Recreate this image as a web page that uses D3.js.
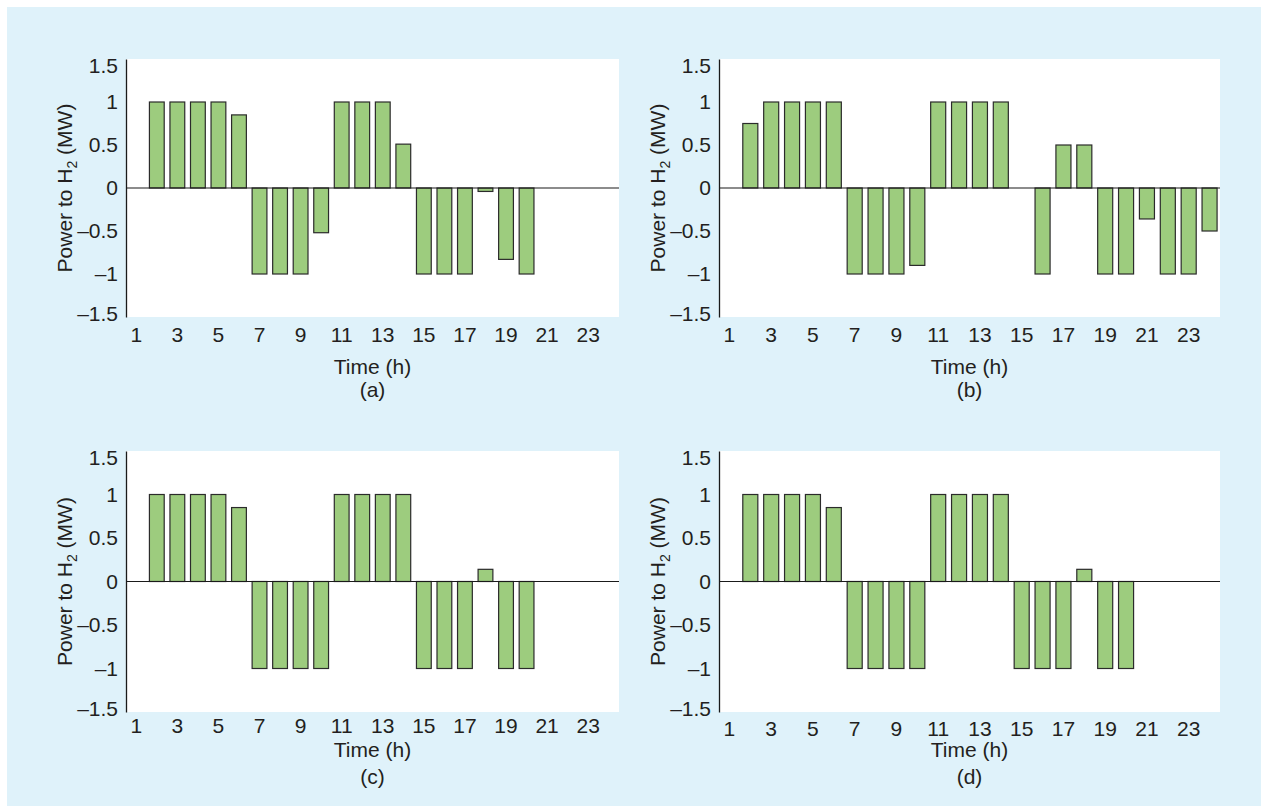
<!DOCTYPE html>
<html>
<head>
<meta charset="utf-8">
<script src="https://cdn.jsdelivr.net/npm/d3@7"></script>
<style>
  html, body { margin: 0; padding: 0; background: #ffffff; }
  text { font-family: "Liberation Sans", Arial, Helvetica, sans-serif; fill: #231f20; }
</style>
</head>
<body>
<svg id="chart" width="1267" height="806"></svg>
<script>
// Hourly power-to-hydrogen schedules (MW) for four cases, hours 1..24
const hours = d3.range(1, 25);
const hourTicks = [1, 3, 5, 7, 9, 11, 13, 15, 17, 19, 21, 23];
const powerTicks = [-1.5, -1, -0.5, 0, 0.5, 1, 1.5];
const panelLabels = ["(a)", "(b)", "(c)", "(d)"];

const powerA = [0, 1, 1, 1, 1, 0.85, -1, -1, -1, -0.52, 1, 1, 1, 0.51, -1, -1, -1, -0.04, -0.83, -1, 0, 0, 0, 0];
const powerB = [0, 0.75, 1, 1, 1, 1, -1, -1, -1, -0.9, 1, 1, 1, 1, 0, -1, 0.5, 0.5, -1, -1, -0.36, -1, -1, -0.5];
const powerC = [0, 1, 1, 1, 1, 0.85, -1, -1, -1, -1, 1, 1, 1, 1, -1, -1, -1, 0.14, -1, -1, 0, 0, 0, 0];
const powerD = [0, 1, 1, 1, 1, 0.85, -1, -1, -1, -1, 1, 1, 1, 1, -1, -1, -1, 0.14, -1, -1, 0, 0, 0, 0];

const series = [powerA, powerB, powerC, powerD];

// Frame of each small multiple
const frames = [
  { left: 126, right: 619,  top: 59,  bottom: 317, tickY: 335, titleY: 367, capY: 390 },
  { left: 719, right: 1220, top: 59,  bottom: 317, tickY: 335, titleY: 367, capY: 390 },
  { left: 126, right: 619,  top: 451, bottom: 712, tickY: 726, titleY: 750, capY: 777 },
  { left: 719, right: 1220, top: 451, bottom: 712, tickY: 729, titleY: 750, capY: 777 }
];

const FONT = 21;

const svg = d3.select("#chart");

svg.append("rect")
  .attr("x", 7).attr("y", 7)
  .attr("width", 1254).attr("height", 799)
  .attr("fill", "#dff2fa");

const fmt = v => (v < 0 ? "\u2013" : "") + d3.format("")(Math.abs(v));

series.forEach((values, i) => {
  const f = frames[i];
  const g = svg.append("g");

  const x = d3.scaleBand().domain(hours).range([f.left, f.right]).paddingInner(0.28).paddingOuter(0.14);
  const y = d3.scaleLinear().domain([-1.5, 1.5]).range([f.bottom, f.top]);

  // plotting area
  g.append("rect")
    .attr("x", f.left).attr("y", f.top)
    .attr("width", f.right - f.left).attr("height", f.bottom - f.top)
    .attr("fill", "#ffffff");

  // bars
  const data = hours.map((h, k) => ({ h, v: values[k] })).filter(d => d.v !== 0);
  g.selectAll("rect.bar").data(data).join("rect")
    .attr("class", "bar")
    .attr("x", d => x(d.h))
    .attr("width", x.bandwidth())
    .attr("y", d => y(Math.max(0, d.v)))
    .attr("height", d => Math.abs(y(d.v) - y(0)))
    .attr("fill", "#9dcc7e")
    .attr("stroke", "#2b2b2b")
    .attr("stroke-width", 1.2);

  // zero line
  g.append("line")
    .attr("x1", f.left).attr("x2", f.right)
    .attr("y1", y(0)).attr("y2", y(0))
    .attr("stroke", "#1a1a1a").attr("stroke-width", 1.2);

  // y axis (line and labels only)
  const yAxis = d3.axisLeft(y).tickValues(powerTicks).tickSize(0).tickPadding(8).tickFormat(fmt);
  const ya = g.append("g").attr("transform", `translate(${f.left},0)`).call(yAxis);
  ya.select(".domain").attr("stroke", "#1a1a1a").attr("stroke-width", 1.3);
  ya.selectAll(".tick text")
    .attr("font-size", FONT)
    .attr("fill", "#231f20")
    .attr("font-family", "Liberation Sans, Arial, sans-serif")
    .attr("dy", "0.35em");
  // keep the end labels inside the frame height
  ya.selectAll(".tick").attr("transform", d => {
    const yy = Math.min(Math.max(y(d), f.top + 7), f.bottom - 3);
    return `translate(0,${yy})`;
  });

  // x tick labels
  const xAxis = d3.axisBottom(x).tickValues(hourTicks).tickSize(0).tickPadding(0);
  const xa = g.append("g").attr("transform", `translate(0,${f.tickY})`).call(xAxis);
  xa.select(".domain").remove();
  xa.selectAll(".tick text")
    .attr("font-size", FONT)
    .attr("fill", "#231f20")
    .attr("font-family", "Liberation Sans, Arial, sans-serif")
    .attr("y", 0)
    .attr("dy", "0.35em");

  const cx = (f.left + f.right) / 2;

  g.append("text")
    .attr("x", cx).attr("y", f.titleY).attr("dy", "0.35em")
    .attr("text-anchor", "middle").attr("font-size", FONT)
    .text("Time (h)");

  g.append("text")
    .attr("x", cx).attr("y", f.capY).attr("dy", "0.35em")
    .attr("text-anchor", "middle").attr("font-size", FONT)
    .text(panelLabels[i]);

  // y title with subscript
  const yt = g.append("text")
    .attr("transform", `translate(${f.left - 61},${(f.top + f.bottom) / 2}) rotate(-90)`)
    .attr("text-anchor", "middle").attr("dy", "0.35em").attr("font-size", FONT);
  yt.append("tspan").text("Power to H");
  yt.append("tspan").attr("font-size", 14).attr("dy", "0.3em").text("2");
  yt.append("tspan").attr("dy", "-0.21em").text(" (MW)");
});
</script>
</body>
</html>
